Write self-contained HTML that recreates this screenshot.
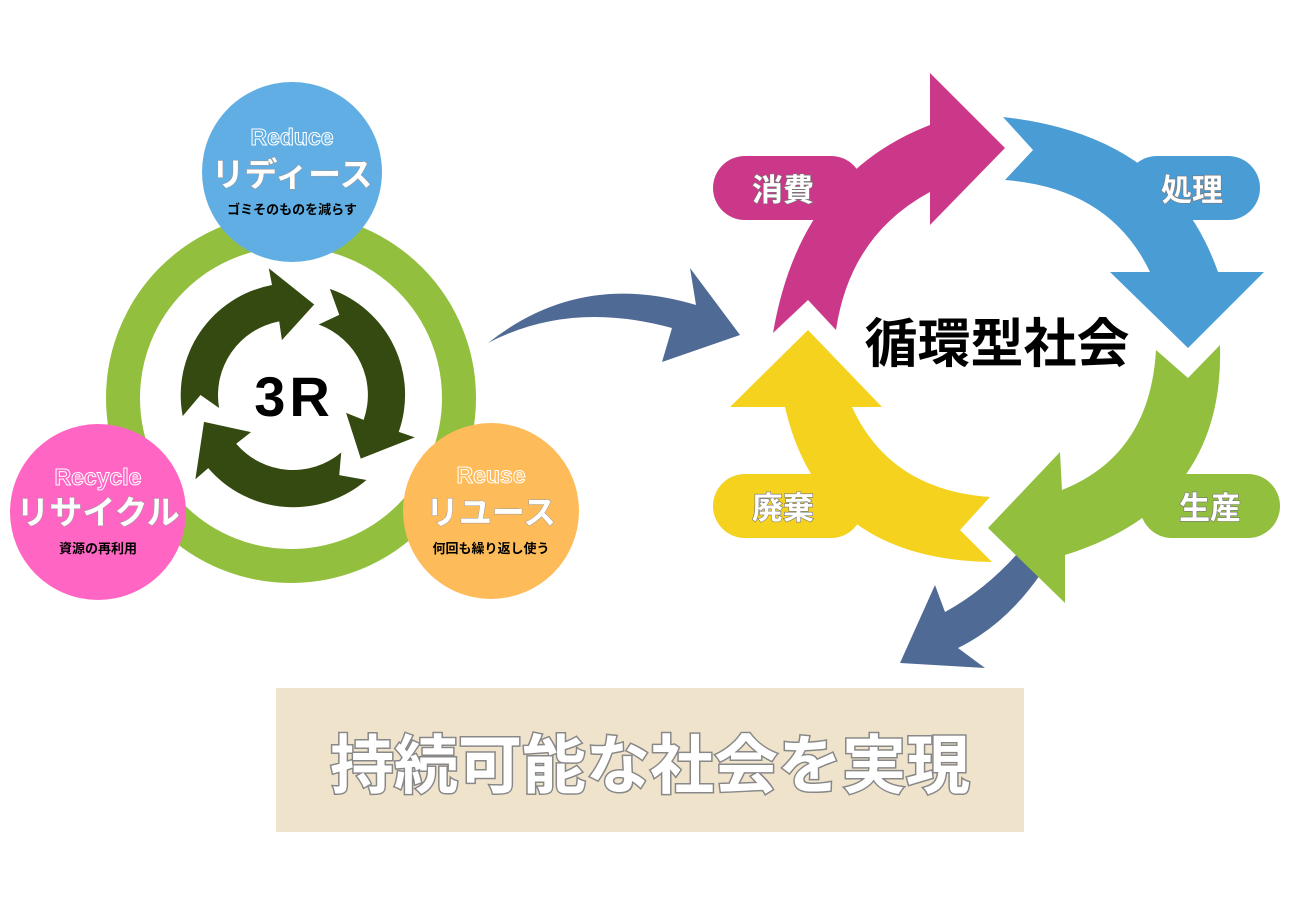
<!DOCTYPE html>
<html><head><meta charset="utf-8"><style>
html,body{margin:0;padding:0;background:#fff;}
svg{display:block;}
text{font-family:"Liberation Sans","Noto Sans CJK JP",sans-serif;font-weight:bold;}
</style></head><body>
<svg width="1300" height="900" viewBox="0 0 1300 900" xmlns="http://www.w3.org/2000/svg">
<circle cx="291" cy="398" r="168" fill="none" stroke="#93bf3e" stroke-width="34"/>
<g fill="#344a10">
<path d="M182.7,416.1 A112,112 0 0 1 272.0,285.0 L268.8,268.3 L314.2,304.5 L281.9,340.1 L279.2,321.4 A75,75 0 0 0 219.1,408.0 L200.5,395 Z"/>
<path transform="rotate(120 293 395)" d="M182.7,416.1 A112,112 0 0 1 272.0,285.0 L268.8,268.3 L314.2,304.5 L281.9,340.1 L279.2,321.4 A75,75 0 0 0 219.1,408.0 L200.5,395 Z"/>
<path transform="rotate(240 293 395)" d="M182.7,416.1 A112,112 0 0 1 272.0,285.0 L268.8,268.3 L314.2,304.5 L281.9,340.1 L279.2,321.4 A75,75 0 0 0 219.1,408.0 L200.5,395 Z"/>
</g>
<text x="294" y="416" font-size="56" text-anchor="middle" fill="#000" letter-spacing="4">3R</text>
<circle cx="292" cy="172" r="90" fill="#60aee3"/>
<circle cx="98" cy="512" r="88" fill="#ff66c4"/>
<circle cx="491" cy="511" r="88" fill="#fdbb5a"/>
<g text-anchor="middle">
<text x="292" y="145" font-size="23" fill="none" stroke="#fff" stroke-width="1" font-weight="normal">Reduce</text>
<text x="292" y="186" font-size="33" fill="#fff" stroke="#999" stroke-width="1" paint-order="stroke">リディース</text>
<text x="292" y="214" font-size="13" fill="#000">ゴミそのものを減らす</text>
<text x="98" y="485" font-size="23" fill="none" stroke="#fff" stroke-width="1" font-weight="normal">Recycle</text>
<text x="98" y="524" font-size="33" fill="#fff" stroke="#999" stroke-width="1" paint-order="stroke">リサイクル</text>
<text x="98" y="553" font-size="13" fill="#000">資源の再利用</text>
<text x="491" y="483" font-size="23" fill="none" stroke="#fff" stroke-width="1" font-weight="normal">Reuse</text>
<text x="491" y="524" font-size="33" fill="#fff" stroke="#999" stroke-width="1" paint-order="stroke">リユース</text>
<text x="491" y="553" font-size="13" fill="#000">何回も繰り返し使う</text>
</g>
<path d="M488,343 Q580,270 696,305 L690,268 L740,335 L662,362 L672,328 Q570,300 488,343 Z" fill="#506a96"/>
<path d="M1018,553 L1040,575 Q1005,625 958,648 L985,668 L900,663 L935,585 L945,612 Q985,590 1018,553 Z" fill="#506a96"/>
<rect x="713" y="156" width="150" height="64" rx="32" fill="#cb3889"/>
<rect x="1125" y="156" width="135" height="64" rx="32" fill="#4a9cd5"/>
<rect x="713" y="474" width="150" height="64" rx="32" fill="#f4d21e"/>
<rect x="1140" y="474" width="140" height="64" rx="32" fill="#93bf3e"/>
<path fill="#cb3889" d="M773,333 L808,300 L836,330 Q850,235 930,192 L930,225 L1005,148 L930,73 L930,125 Q800,175 773,333 Z"/>
<path fill="#4a9cd5" d="M1003,117 L1033,150 L1005,180 Q1110,188 1150,272 L1110,272 L1188,348 L1264,272 L1218,272 Q1170,135 1003,117 Z"/>
<path fill="#93bf3e" d="M1156,350 L1188,378 L1220,345 Q1225,505 1065,555 L1065,603 L988,528 L1060,452 L1062,490 Q1150,455 1156,350 Z"/>
<path fill="#f4d21e" d="M990,497 L960,530 L992,562 Q820,560 785,407 L730,407 L808,330 L882,407 L852,407 Q890,490 990,497 Z"/>
<g text-anchor="middle" font-size="31" fill="#fff" stroke="#777" stroke-width="1.2" paint-order="stroke">
<text x="783" y="201">消費</text>
<text x="1192" y="201">処理</text>
<text x="783" y="519">廃棄</text>
<text x="1210" y="519">生産</text>
</g>
<text x="997" y="362" font-size="53" text-anchor="middle" fill="#000">循環型社会</text>
<rect x="276" y="688" width="748" height="144" fill="#efe3cc"/>
<text x="650" y="788" font-size="64" text-anchor="middle" fill="#fff" stroke="#888" stroke-width="3" paint-order="stroke">持続可能な社会を実現</text>
</svg>
</body></html>
